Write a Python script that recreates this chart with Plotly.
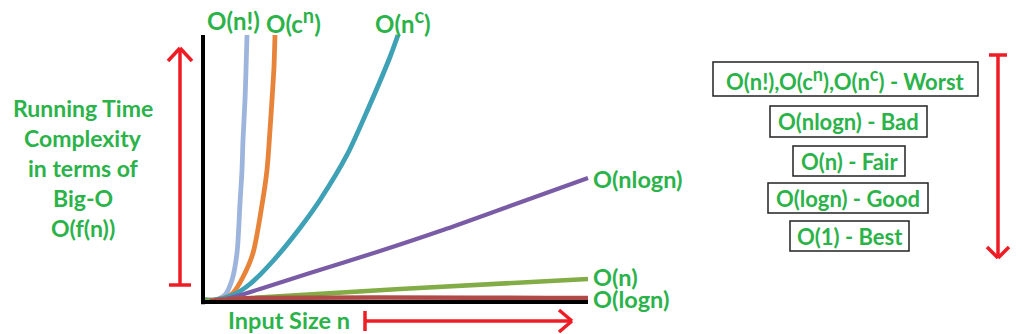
import plotly.graph_objects as go

W, H = 1022, 334

# ---- data (axes 0..100 in both directions) ----
fact_x = [0.52, 3.12, 5.71, 7.53, 8.83, 9.61, 10.13, 10.39, 10.91, 11.17, 11.43]
fact_y = [0.75, 0.75, 2.62, 8.24, 18.35, 37.08, 49.44, 60.67, 75.66, 86.89, 100.0]

expo_x = [0.52, 3.12, 6.23, 7.79, 10.39, 12.99, 15.32, 16.62, 17.40, 17.92, 18.44, 18.70]
expo_y = [0.75, 0.75, 1.87, 3.37, 9.36, 18.35, 36.33, 49.44, 64.42, 75.66, 88.01, 100.0]

poly_x = [0.52, 3.12, 7.79, 12.21, 18.18, 25.19, 30.39, 37.40, 42.86, 48.57, 50.65]
poly_y = [0.75, 0.75, 2.62, 6.74, 15.36, 27.72, 38.20, 55.06, 72.28, 91.76, 100.0]

nlogn_x = [0, 7.01, 14.81, 27.79, 45.19, 62.34, 79.74, 100]
nlogn_y = [0.37, 1.50, 4.87, 10.86, 18.73, 26.97, 35.96, 46.44]

lin_x = [0, 51.17, 100]
lin_y = [0.37, 4.87, 8.61]

log_x = [1.82, 9.61, 100]
log_y = [0.37, 1.31, 1.50]

series_names = ["O(n!)", "O(c^n)", "O(n^c)", "O(nlogn)", "O(n)", "O(logn)"]
SUP = '<sup><span style="font-size:20px">%s</span></sup>'
top_labels = ["O(n!)", "O(c" + SUP % "n" + ")", "O(n" + SUP % "c" + ")"]
end_labels = ["O(nlogn)", "O(n)", "O(logn)"]
left_lines = ["Running Time", "Complexity", "in terms of", "Big-O", "O(f(n))"]
x_title = "Input Size n"
SUPB = '<sup><span style="font-size:18px">%s</span></sup>'
legend_boxes = ["O(n!),O(c" + SUPB % "n" + "),O(n" + SUPB % "c" + ") - Worst",
                "O(nlogn) - Bad", "O(n) - Fair", "O(logn) - Good", "O(1) - Best"]

# ---- styles ----
GREEN = "#2bb34a"
RED = "#ee1c24"
colors = ["#9db5dc", "#e8843a", "#3fa1b6", "#7a5ca6", "#82ad46", "#b04a47"]
widths = [4.8, 4.8, 4.8, 4.2, 4.6, 4.5]
FONT = dict(family="Lato", size=22, color=GREEN, weight="bold")


def fx(p):
    return p / W


def fy(p):
    return 1 - p / H


fig = go.Figure()
for xs, ys, c, w, n in zip([fact_x, expo_x, poly_x, nlogn_x, lin_x, log_x],
                           [fact_y, expo_y, poly_y, nlogn_y, lin_y, log_y],
                           colors, widths, series_names):
    fig.add_trace(go.Scatter(x=xs, y=ys, mode="lines", name=n,
                             line=dict(color=c, width=w, shape="spline", smoothing=0.8),
                             hoverinfo="skip"))

# plot area: x 0..100 -> px 203..588 ; y 0..100 -> px 302..35
x0p, sx = 203, 3.85
y0p, sy = 302, 2.67
xr = [-2, 102]
yr = [-2, 102]
fig.update_xaxes(range=xr, visible=False, fixedrange=True,
                 domain=[fx(x0p + sx * xr[0]), fx(x0p + sx * xr[1])])
fig.update_yaxes(range=yr, visible=False, fixedrange=True,
                 domain=[fy(y0p - sy * yr[0]), fy(y0p - sy * yr[1])])

shapes = []
# black axes
shapes.append(dict(type="line", xref="x", yref="y", x0=0, x1=0, y0=-0.8, y1=100,
                   line=dict(color="black", width=4), layer="above"))
shapes.append(dict(type="line", xref="x", yref="y", x0=-0.5, x1=100, y0=0, y1=0,
                   line=dict(color="black", width=4), layer="above"))


def pline(xa, ya, xb, yb, w=3.5, col=RED):
    return dict(type="line", xref="paper", yref="paper", x0=fx(xa), y0=fy(ya),
                x1=fx(xb), y1=fy(yb), line=dict(color=col, width=w))


# left vertical arrow
shapes += [pline(180, 285, 180, 48), pline(169, 285, 191, 285),
           pline(168, 61, 180, 48), pline(192, 61, 180, 48)]
# horizontal arrow
shapes += [pline(365, 321, 572, 321), pline(365, 311, 365, 331),
           pline(559, 310, 572, 321), pline(559, 332, 572, 321)]
# right vertical arrow
shapes += [pline(998, 55, 998, 258), pline(989, 55, 1007, 55),
           pline(987, 247, 998, 258), pline(1009, 247, 998, 258)]

# legend boxes
boxes = [(713, 62, 978, 96), (770, 106, 927, 137), (793, 146, 905, 176),
         (768, 183, 928, 213), (790, 221, 909, 251)]
for (a, b, c, d) in boxes:
    shapes.append(dict(type="rect", xref="paper", yref="paper", x0=fx(a), y0=fy(b),
                       x1=fx(c), y1=fy(d), line=dict(color="#222", width=1.5)))

ann = []


def txt(t, x, y, xanchor="center", size=22):
    f = dict(FONT)
    f["size"] = size
    ann.append(dict(text=t, x=fx(x), y=fy(y), xref="paper", yref="paper",
                    xanchor=xanchor, yanchor="middle", showarrow=False, font=f))


for t, x in zip(top_labels, [233, 293, 403]):
    txt(t, x, 20, size=24)
for t, y in zip(end_labels, [179, 277, 299]):
    txt(t, 591, y, xanchor="left", size=23.5)
for t, y in zip(left_lines, [108, 138, 168, 198, 228]):
    txt(t, 83, y, size=23)
txt(x_title, 289, 320, size=23.5)
for t, (a, b, c, d) in zip(legend_boxes, boxes):
    txt(t, (a + c) / 2, (b + d) / 2)

fig.update_layout(width=W, height=H, margin=dict(l=0, r=0, t=0, b=0),
                  paper_bgcolor="white", plot_bgcolor="white", showlegend=False,
                  shapes=shapes, annotations=ann)
fig.write_html("out.html", config={"displayModeBar": False})
